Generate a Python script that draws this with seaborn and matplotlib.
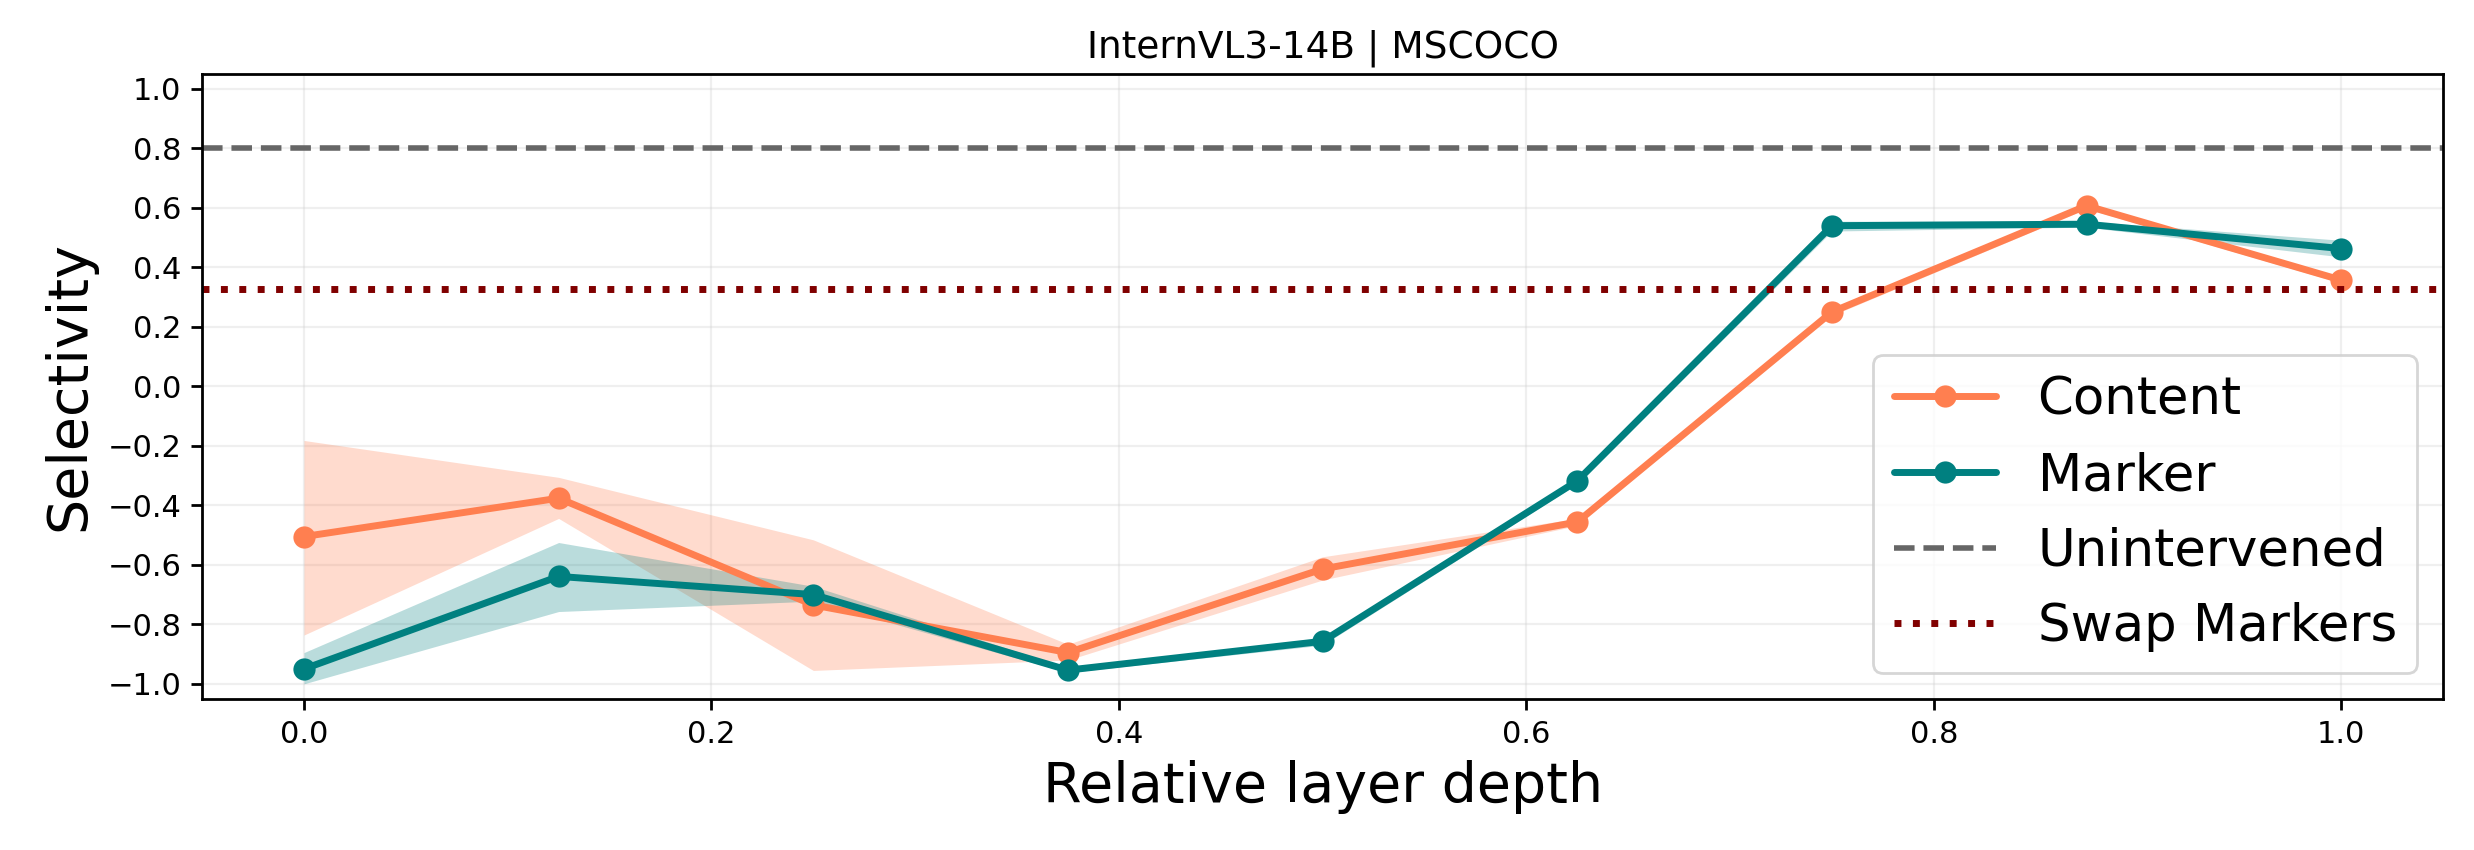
import numpy as np
import pandas as pd
import seaborn as sns
import matplotlib.pyplot as plt

# Data
depth = [0.0, 0.125, 0.25, 0.375, 0.5, 0.625, 0.75, 0.875, 1.0]

content_mean = [-0.505, -0.376, -0.735, -0.895, -0.614, -0.456, 0.250, 0.607, 0.357]
content_low = [-0.836, -0.444, -0.955, -0.920, -0.651, -0.468, 0.238, 0.597, 0.347]
content_high = [-0.182, -0.306, -0.516, -0.867, -0.573, -0.444, 0.262, 0.617, 0.367]

marker_mean = [-0.950, -0.639, -0.700, -0.954, -0.857, -0.318, 0.540, 0.545, 0.463]
marker_low = [-1.000, -0.757, -0.722, -0.962, -0.870, -0.328, 0.522, 0.535, 0.435]
marker_high = [-0.895, -0.525, -0.672, -0.946, -0.845, -0.308, 0.555, 0.555, 0.491]

unintervened = 0.80
swap_markers = 0.327

title = "InternVL3-14B | MSCOCO"

# Colours
c_content = "#FF7F50"
c_marker = "#008080"

df = pd.DataFrame({
	'depth': depth * 2,
	'selectivity': content_mean + marker_mean,
	'condition': ['Content'] * len(depth) + ['Marker'] * len(depth),
})

sns.set_style("ticks")
plt.rcParams['font.family'] = ['DejaVu Sans']
plt.rcParams['text.color'] = 'black'
plt.rcParams['axes.labelcolor'] = 'black'
plt.rcParams['xtick.color'] = 'black'
plt.rcParams['ytick.color'] = 'black'

fig, ax = plt.subplots(figsize=(12.37, 4.25), dpi=200)
fig.subplots_adjust(left=0.0817, right=0.9875, top=0.913, bottom=0.178)

# confidence bands
ax.fill_between(depth, content_low, content_high, color=c_content, alpha=0.28, linewidth=0)
ax.fill_between(depth, marker_low, marker_high, color=c_marker, alpha=0.27, linewidth=0)

sns.lineplot(data=df, x='depth', y='selectivity', hue='condition',
	palette={'Content': c_content, 'Marker': c_marker},
	marker='o', markersize=8, markeredgewidth=0, linewidth=2.5, ax=ax, errorbar=None)

ax.axhline(unintervened, color='#666666', linestyle='--', linewidth=2, label='Unintervened')
ax.axhline(swap_markers, color='#800000', linestyle=':', linewidth=2.5, label='Swap Markers')

ax.set_ylim(-1.05, 1.05)
ax.set_yticks(np.arange(-1.0, 1.01, 0.2))
ax.grid(True, alpha=0.3)
for s in ax.spines.values() :
	s.set_visible(True)
	s.set_linewidth(1.0)
	s.set_color('black')
ax.tick_params(labelsize=11, length=4, width=1, colors='black')

ax.set_title(title, fontsize=13.5, color='black')
ax.set_xlabel("Relative layer depth", fontsize=20, color='black')
ax.set_ylabel("Selectivity", fontsize=20, color='black')

handles, labels = ax.get_legend_handles_labels()
leg = ax.legend(handles, labels, loc='lower right', fontsize=18.5)
for t in leg.get_texts() :
	t.set_color('black')

fig.savefig("out.png", dpi=200)
